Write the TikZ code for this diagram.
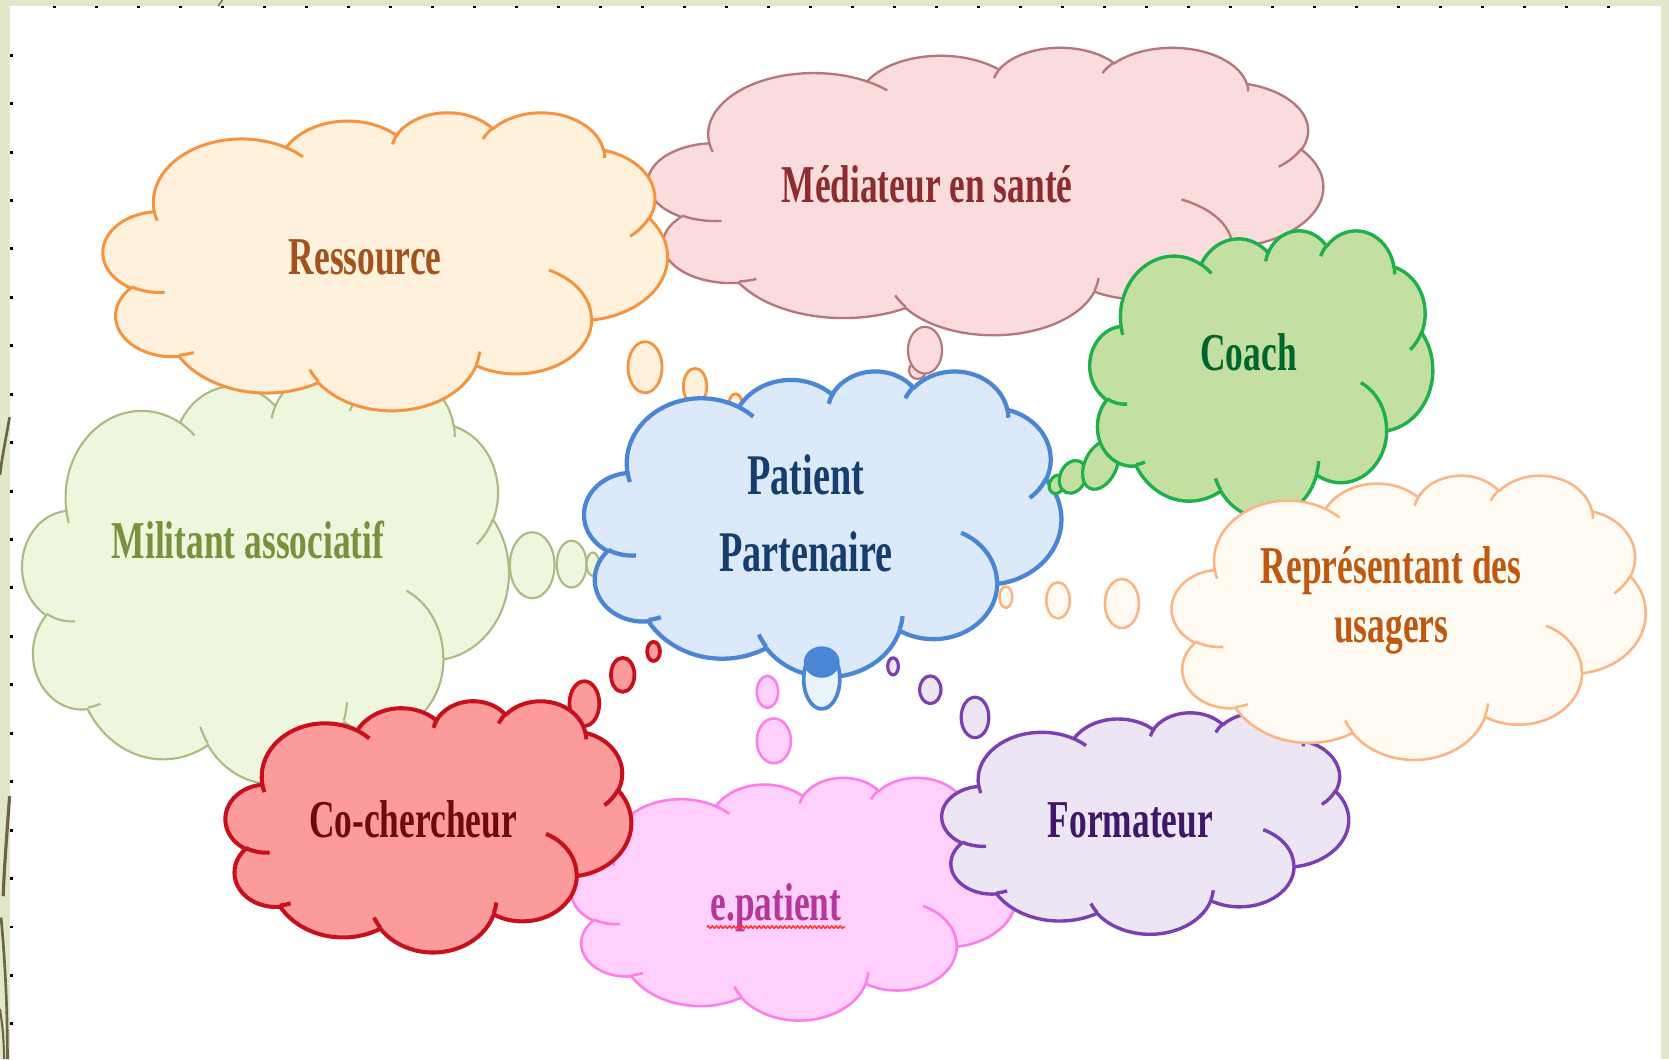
\documentclass[tikz,border=0pt]{standalone}
\usepackage{fontspec}
\setmainfont{Liberation Serif}[FakeStretch=0.665]
\usetikzlibrary{decorations.pathmorphing}

% Frame of the slide
\definecolor{slideframe}{HTML}{E2E7C9}
\definecolor{leafline}{HTML}{6B6448}
% Line, fill and text colours of the clouds
\definecolor{medline}{HTML}{B5777A}\definecolor{medfill}{HTML}{FADCDD}\definecolor{medtext}{HTML}{8C2C2E}
\definecolor{resline}{HTML}{F7923F}\definecolor{resfill}{HTML}{FFF1DB}\definecolor{restext}{HTML}{A2521E}
\definecolor{milline}{HTML}{A8BC84}\definecolor{milfill}{HTML}{EEF6DE}\definecolor{miltext}{HTML}{76923C}
\definecolor{patline}{HTML}{4A86D5}\definecolor{patfill}{HTML}{DCE9FA}\definecolor{pattext}{HTML}{153E6E}
\definecolor{coaline}{HTML}{1DB04B}\definecolor{coafill}{HTML}{C4DFA2}\definecolor{coatext}{HTML}{00652C}
\definecolor{repline}{HTML}{FBB482}\definecolor{repfill}{HTML}{FFFBF3}\definecolor{reptext}{HTML}{C0580F}
\definecolor{cocline}{HTML}{C8101C}\definecolor{cocfill}{HTML}{FC9B9B}\definecolor{coctext}{HTML}{70090C}
\definecolor{epaline}{HTML}{FF7CEA}\definecolor{epafill}{HTML}{FFD0FC}\definecolor{epatext}{HTML}{B5379B}
\definecolor{forline}{HTML}{7A3FB2}\definecolor{forfill}{HTML}{ECE6F4}\definecolor{fortext}{HTML}{3F1768}

% Outline of a cloud in a 432 x 432 box (y pointing down)
\newcommand{\cloudoutline}{%
  (39,143.7)
  arc[start angle=-187.75, delta angle=128.11, x radius=67.53, y radius=91.90]
  arc[start angle=-152.02, delta angle=106.57, x radius=53.33, y radius=72.67]
  arc[start angle=-153.49, delta angle=116.16, x radius=43.65, y radius=59.45]
  arc[start angle=-139.72, delta angle=129.50, x radius=48.57, y radius=65.95]
  arc[start angle=-74.77, delta angle=97.98, x radius=53.33, y radius=72.73]
  arc[start angle=-37.53, delta angle=119.39, x radius=67.75, y radius=92.20]
  arc[start angle=0.46, delta angle=121.52, x radius=57.85, y radius=78.67]
  arc[start angle=16.84, delta angle=129.38, x radius=67.52, y radius=92.15]
  arc[start angle=58.98, delta angle=91.21, x radius=77.20, y radius=105.43]
  arc[start angle=83.31, delta angle=139.80, x radius=43.60, y radius=59.18]
  arc[start angle=120.35, delta angle=143.76, x radius=43.45, y radius=59.45]
  -- cycle}
% The small curls inside the cloud
\newcommand{\cloudcurls}{%
  (46.93,261.77) arc[start angle=85.54, delta angle=34.81, x radius=43.45, y radius=59.45]
  (69.28,348.99) arc[start angle=68.23, delta angle=15.08, x radius=43.60, y radius=59.18]
  (164.78,390.90) arc[start angle=146.22, delta angle=12.25, x radius=67.52, y radius=92.15]
  (288.27,347.51) arc[start angle=4.74, delta angle=12.10, x radius=67.52, y radius=92.15]
  (341.29,229.54) arc[start angle=-64.03, delta angle=64.49, x radius=57.85, y radius=78.67]
  (417.98,153.54) arc[start angle=23.21, delta angle=26.43, x radius=53.33, y radius=72.73]
  (383.24,54.26) arc[start angle=-10.22, delta angle=11.05, x radius=48.57, y radius=65.95]
  (290.78,39.52) arc[start angle=-156.29, delta angle=16.57, x radius=48.57, y radius=65.95]
  (221.41,47.20) arc[start angle=-167.72, delta angle=15.37, x radius=43.65, y radius=59.45]
  (140.00,51.92) arc[start angle=-59.64, delta angle=13.91, x radius=67.53, y radius=91.90]
  (41.27,157.89) arc[start angle=163.19, delta angle=9.06, x radius=67.53, y radius=91.90]}
% [line options] x, y, width, height, line colour, fill colour
\newcommand{\thoughtcloud}[7][]{%
  \begin{scope}[shift={(#2,#3)}, x={(#4pt/432,0pt)}, y={(0pt,-#5pt/432)}]
    \draw[#6, fill=#7, #1] \cloudoutline;
    \draw[#6, #1] \cloudcurls;
  \end{scope}}

\begin{document}
\begin{tikzpicture}[x=1pt, y=-1pt, line join=round,
  cloudtext/.style={font=\bfseries\fontsize{50}{55}\selectfont, align=center}]
  \useasboundingbox (0,0) rectangle (1568,995);

  % Slide frame with its tick marks
  \fill[slideframe] (0,0) rectangle (1568,995);
  \fill[white] (9.5,5.5) rectangle (1560,995);
  \foreach \i in {0,...,37} \fill (49.5+39.46*\i,5.3) rectangle ++(2.8,2.6);
  \foreach \i in {0,...,20} \fill (9.8,50.5+45.5*\i) rectangle ++(2.6,2.8);
  \draw[leafline, line width=2.5] (9,392) .. controls (6,410) and (2,428) .. (0,446);
  \draw[leafline, line width=3] (9,748) .. controls (6,790) and (4,815) .. (3,842);
  \draw[leafline, line width=2.5] (1,862) .. controls (5,905) and (7,950) .. (7,995);
  \draw[leafline, line width=2] (0,948) .. controls (3,970) .. (4,995);
  \draw[leafline, line width=1.2] (209,0) -- (205,5.5);

  % Médiateur en santé
  \draw[medline, fill=medfill, line width=2] (862,348) ellipse [x radius=8, y radius=8];
  \draw[medline, fill=medfill, line width=2] (869,329) ellipse [x radius=16, y radius=22];
  \thoughtcloud[line width=2.2]{609}{44}{634}{270}{medline}{medfill}
  \node (mediateur) [cloudtext, text=medtext, anchor=base] at (871,190) {Médiateur en santé};

  % Militant associatif
  \draw[milline, fill=milfill, line width=2] (500,531) ellipse [x radius=21, y radius=31];
  \draw[milline, fill=milfill, line width=2] (537,530) ellipse [x radius=14, y radius=22];
  \draw[milline, fill=milfill, line width=2] (557,530) ellipse [x radius=6, y radius=11];
  \thoughtcloud[line width=2]{21}{351}{457}{384}{milline}{milfill}
  \node (militant) [cloudtext, text=miltext, anchor=base] at (233,525) {Militant associatif};

  % Ressource
  \draw[resline, fill=resfill, line width=2.6] (606,345) ellipse [x radius=16, y radius=24];
  \draw[resline, fill=resfill, line width=2.6] (653,363) ellipse [x radius=11, y radius=17];
  \draw[resline, fill=resfill, line width=2.6] (691,379) ellipse [x radius=6, y radius=9];
  \thoughtcloud[line width=2.8]{97}{105}{530}{280}{resline}{resfill}
  \node (ressource) [cloudtext, text=restext, anchor=base] at (343,258) {Ressource};

  % Central cloud (Patient Partenaire)
  \thoughtcloud[line width=4]{549}{348}{448}{287}{patline}{patfill}
  \draw[patline, fill=patfill!60!white, line width=3.5] (772,638) ellipse [x radius=17, y radius=28];
  \draw[patline, fill=patline, line width=3.5] (772,622) ellipse [x radius=15, y radius=13];
  \node (patient) [cloudtext, text=pattext, font=\bfseries\fontsize{54}{72}\selectfont] at (757,482) {Patient\\Partenaire};

  % Coach
  \draw[coaline, fill=coafill, line width=3, rotate around={-25:(993,455)}] (993,455) ellipse [x radius=7, y radius=9];
  \draw[coaline, fill=coafill, line width=3, rotate around={-25:(1008,448)}] (1008,448) ellipse [x radius=12, y radius=16];
  \draw[coaline, fill=coafill, line width=3, rotate around={-25:(1034,437)}] (1034,437) ellipse [x radius=15, y radius=24];
  \thoughtcloud[line width=3.2]{1024}{216}{322}{270}{coaline}{coafill}
  \node (coach) [cloudtext, text=coatext, anchor=base] at (1173,348) {Coach};

  % e.patient
  \draw[epaline, fill=epafill, line width=2.4] (721,650) ellipse [x radius=10, y radius=15];
  \draw[epaline, fill=epafill, line width=2.4] (727,696) ellipse [x radius=16, y radius=21];
  \thoughtcloud[line width=2.4]{537}{730}{418}{228}{epaline}{epafill}
  \node (epatient) [cloudtext, text=epatext, anchor=base] at (729,865) {e.patient};
  \draw[red!80!white, line width=1.4, decorate, decoration={snake, amplitude=1.2pt, segment length=4pt}]
    ([yshift=-6pt]epatient.base west) -- ([yshift=-6pt]epatient.base east);

  % Formateur
  \draw[forline, fill=forfill, line width=3] (839,626) ellipse [x radius=5, y radius=8];
  \draw[forline, fill=forfill, line width=3] (874,648) ellipse [x radius=10, y radius=13];
  \draw[forline, fill=forfill, line width=3] (916,674) ellipse [x radius=13, y radius=19];
  \thoughtcloud[line width=3.2]{885}{669}{382}{208}{forline}{forfill}
  \node (formateur) [cloudtext, text=fortext, anchor=base] at (1062,787) {Formateur};

  % Représentant des usagers
  \draw[repline, fill=repfill, line width=2.4] (945,561) ellipse [x radius=6, y radius=10];
  \draw[repline, fill=repfill, line width=2.4] (994,564) ellipse [x radius=11, y radius=17];
  \draw[repline, fill=repfill, line width=2.4] (1054,567) ellipse [x radius=16, y radius=23];
  \thoughtcloud[line width=2.4]{1101}{446}{445}{267}{repline}{repfill}
  \node (representant) [cloudtext, text=reptext] at (1307,564) {Représentant des\\usagers};

  % Co-chercheur
  \draw[cocline, fill=cocfill, line width=3.5] (614,612) ellipse [x radius=6, y radius=9];
  \draw[cocline, fill=cocfill, line width=3.5] (585,634) ellipse [x radius=11, y radius=16];
  \draw[cocline, fill=cocfill, line width=3.5] (549,661) ellipse [x radius=14, y radius=21];
  \thoughtcloud[line width=3.8]{212}{658}{381}{236}{cocline}{cocfill}
  \node (cochercheur) [cloudtext, text=coctext, anchor=base] at (388,787) {Co-chercheur};
\end{tikzpicture}
\end{document}
